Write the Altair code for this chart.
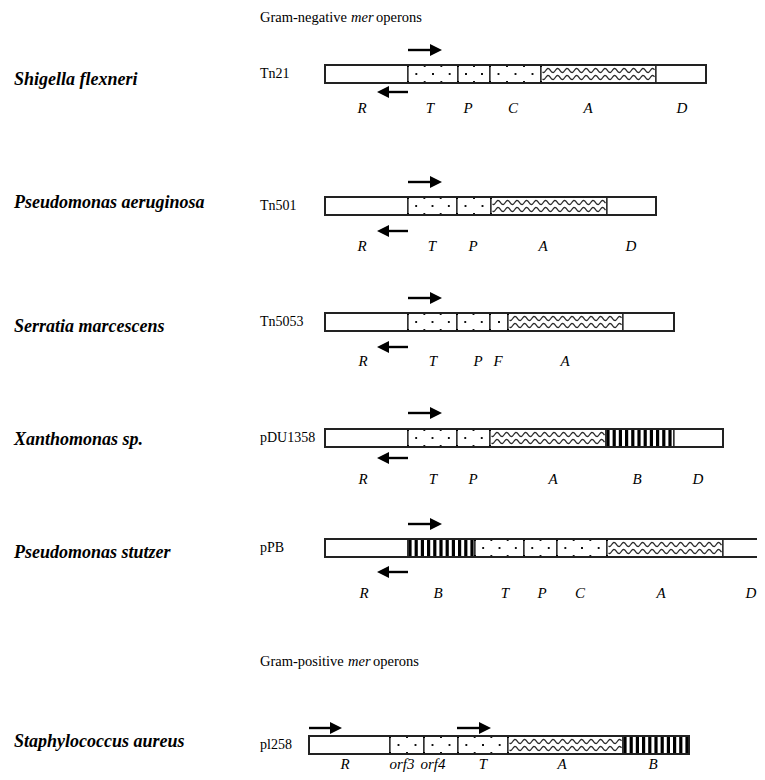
import altair as alt
import pandas as pd
import numpy as np

# ---------------- data (positions in px-like map units; 0 = operon start) -------------
OPERONS = ["Tn21", "Tn501", "Tn5053", "pDU1358", "pPB", "pl258"]
SPECIES = ["Shigella flexneri", "Pseudomonas aeruginosa", "Serratia marcescens",
           "Xanthomonas sp.", "Pseudomonas stutzer", "Staphylococcus aureus"]
SPECIES_Y = [80, 203, 327, 440, 553, 742]
TRACK_Y = [74, 206, 322, 438, 548, 745]
LABEL_Y = [108, 246, 361, 479, 593, 764]

TN21_BOUNDS = [0, 83, 133, 165, 216, 331, 381]
TN21_FILL = ["plain", "dots", "dots", "dots", "wave", "plain"]
TN21_LABELS = ["R", "T", "P", "C", "A", "D"]
TN21_LABEL_X = [37, 105, 143, 188, 263, 357]

TN501_BOUNDS = [0, 83, 132, 166, 282, 331]
TN501_FILL = ["plain", "dots", "dots", "wave", "plain"]
TN501_LABELS = ["R", "T", "P", "A", "D"]
TN501_LABEL_X = [37, 107, 148, 218, 306]

TN5053_BOUNDS = [0, 83, 132, 165, 183, 298, 349]
TN5053_FILL = ["plain", "dots", "dots", "dots", "wave", "plain"]
TN5053_LABELS = ["R", "T", "P", "F", "A"]
TN5053_LABEL_X = [38, 108, 153, 173, 240]

PDU_BOUNDS = [0, 83, 132, 165, 281, 349, 398]
PDU_FILL = ["plain", "dots", "dots", "wave", "stripes", "plain"]
PDU_LABELS = ["R", "T", "P", "A", "B", "D"]
PDU_LABEL_X = [38, 108, 148, 228, 312, 373]

PPB_BOUNDS = [0, 83, 150, 199, 232, 282, 398, 470]
PPB_FILL = ["plain", "stripes", "dots", "dots", "dots", "wave", "plain"]
PPB_LABELS = ["R", "B", "T", "P", "C", "A", "D"]
PPB_LABEL_X = [39, 113, 180, 217, 255, 336, 426]

PL258_BOUNDS = [-16, 65, 99, 133, 183, 298, 364]
PL258_FILL = ["plain", "dots", "dots", "dots", "wave", "stripes"]
PL258_LABELS = ["R", "orf3", "orf4", "T", "A", "B"]
PL258_LABEL_X = [20, 77, 108, 158, 237, 328]

# arrows: start, end, y
ARROW_X1 = [83, 83, 83, 83, 83, 83, 83, 83, 83, 83, -16, 132]
ARROW_X2 = [117, 52, 117, 52, 117, 52, 117, 52, 117, 52, 17, 166]
ARROW_Y = [50, 92, 182, 231, 298, 347, 413, 458, 524, 572, 728, 728]

TITLES = ["Gram-negative", "mer", "operons", "Gram-positive", "mer", "operons"]
TITLE_X = [-65, 26, 51, -65, 23, 48]
TITLE_Y = [18, 18, 18, 662, 662, 662]
TITLE_STYLE = ["normal", "italic", "normal", "normal", "italic", "normal"]

OPERON_NAME_X = -65

ALL_BOUNDS = [TN21_BOUNDS, TN501_BOUNDS, TN5053_BOUNDS, PDU_BOUNDS, PPB_BOUNDS, PL258_BOUNDS]
ALL_FILL = [TN21_FILL, TN501_FILL, TN5053_FILL, PDU_FILL, PPB_FILL, PL258_FILL]
ALL_LABELS = [TN21_LABELS, TN501_LABELS, TN5053_LABELS, PDU_LABELS, PPB_LABELS, PL258_LABELS]
ALL_LABEL_X = [TN21_LABEL_X, TN501_LABEL_X, TN5053_LABEL_X, PDU_LABEL_X, PPB_LABEL_X, PL258_LABEL_X]

HALF = 9  # half bar thickness (map units)

# ---------------- build tables -------------
seg_rows, outline_rows, dot_rows, wave_rows, stripe_rows, lab_rows = [], [], [], [], [], []
for k, (bounds, fills) in enumerate(zip(ALL_BOUNDS, ALL_FILL)):
    c = TRACK_Y[k]
    outline_rows.append(dict(x=bounds[0], x2=bounds[-1], y=c - HALF, y2=c + HALF))
    for i, f in enumerate(fills):
        s, e = bounds[i], bounds[i + 1]
        seg_rows.append(dict(x=s, x2=e, y=c - HALF, y2=c + HALF))
        w = e - s
        if f == "dots":
            n = max(1, int(round(w / 16.0)))
            for j in range(n):
                dot_rows.append(dict(x=s + (j + 0.5) * w / n, y=c))
            for j in range(n + 1):
                dot_rows.append(dict(x=s + j * w / n, y=c - HALF + 1))
                dot_rows.append(dict(x=s + j * w / n, y=c + HALF - 1))
        elif f == "wave":
            xs = np.arange(s + 1.5, e - 1.0, 0.5)
            for off in (-3.5, 3.5):
                wid = f"{k}-{i}-{off}"
                for xv in xs:
                    wave_rows.append(dict(x=float(xv), y=c + off + 2.0 * np.sin((xv - s) * 2 * np.pi / 9.5), id=wid))
        elif f == "stripes":
            xv = s + 2.0
            while xv < e - 1.0:
                stripe_rows.append(dict(x=xv, y=c - HALF, y2=c + HALF))
                xv += 6.2
    for lab, lx in zip(ALL_LABELS[k], ALL_LABEL_X[k]):
        lab_rows.append(dict(x=lx, y=LABEL_Y[k], t=lab))

seg_df = pd.DataFrame(seg_rows)
outline_df = pd.DataFrame(outline_rows)
dot_df = pd.DataFrame(dot_rows)
wave_df = pd.DataFrame(wave_rows)
stripe_df = pd.DataFrame(stripe_rows)
lab_df = pd.DataFrame(lab_rows)

shaft_rows, head_r, head_l = [], [], []
for x1, x2, y in zip(ARROW_X1, ARROW_X2, ARROW_Y):
    d = 1 if x2 > x1 else -1
    shaft_rows.append(dict(x=x1, x2=x2 - d * 8, y=y))
    (head_r if d > 0 else head_l).append(dict(x=x2 - d * 6, y=y))
shaft_df = pd.DataFrame(shaft_rows)
headr_df = pd.DataFrame(head_r)
headl_df = pd.DataFrame(head_l)

name_df = pd.DataFrame(dict(x=[OPERON_NAME_X] * len(OPERONS), y=TRACK_Y, t=OPERONS))
species_df = pd.DataFrame(dict(x=[-311] * len(SPECIES), y=SPECIES_Y, t=SPECIES))
title_df = pd.DataFrame(dict(x=TITLE_X, y=TITLE_Y, t=TITLES, s=TITLE_STYLE))

# ---------------- scales -------------
XS = alt.Scale(domain=[-317, 432], nice=False, zero=False)
YS = alt.Scale(domain=[8, 772], nice=False, zero=False, reverse=True)
FONT = "Liberation Serif"


def X(f="x"):
    return alt.X(f + ":Q", scale=XS, axis=None)


def Y(f="y"):
    return alt.Y(f + ":Q", scale=YS, axis=None)


segs = alt.Chart(seg_df).mark_rect(fill="white", stroke="black", strokeWidth=1.1, clip=True).encode(
    x=X(), x2="x2:Q", y=Y(), y2="y2:Q")
dots = alt.Chart(dot_df).mark_square(size=3.5, color="black", opacity=1).encode(x=X(), y=Y())
waves = alt.Chart(wave_df).mark_line(color="#2a2a2a", strokeWidth=1.25).encode(
    x=X(), y=Y(), detail="id:N")
stripes = alt.Chart(stripe_df).mark_rule(color="black", strokeWidth=3.2).encode(
    x=X(), y=Y(), y2="y2:Q")
outline = alt.Chart(outline_df).mark_rect(fill=None, stroke="#222222", strokeWidth=2, clip=True).encode(
    x=X(), x2="x2:Q", y=Y(), y2="y2:Q")
shafts = alt.Chart(shaft_df).mark_rule(color="black", strokeWidth=2.4).encode(
    x=X(), x2="x2:Q", y=Y())
heads_r = alt.Chart(headr_df).mark_point(shape="M-1,-1L1,0L-1,1Z", filled=True, size=144,
                                         color="black", opacity=1, strokeWidth=0).encode(x=X(), y=Y())
heads_l = alt.Chart(headl_df).mark_point(shape="M1,-1L-1,0L1,1Z", filled=True, size=144,
                                         color="black", opacity=1, strokeWidth=0).encode(x=X(), y=Y())
gene_labels = alt.Chart(lab_df).mark_text(font=FONT, fontStyle="italic", fontSize=15, color="black",
                                          align="center", baseline="middle").encode(x=X(), y=Y(), text="t:N")
names = alt.Chart(name_df).mark_text(font=FONT, fontSize=14, color="black", align="left",
                                     baseline="middle").encode(x=X(), y=Y(), text="t:N")
species = alt.Chart(species_df).mark_text(font=FONT, fontSize=18, fontStyle="italic", fontWeight="bold",
                                          color="black", align="left", baseline="middle").encode(
    x=X(), y=Y(), text="t:N")
titles_n = alt.Chart(title_df).transform_filter("datum.s == 'normal'").mark_text(
    font=FONT, fontSize=14.5, color="black", align="left", baseline="middle").encode(x=X(), y=Y(), text="t:N")
titles_i = alt.Chart(title_df).transform_filter("datum.s == 'italic'").mark_text(
    font=FONT, fontSize=14.5, fontStyle="italic", color="black", align="left", baseline="middle").encode(
    x=X(), y=Y(), text="t:N")

chart = alt.layer(segs, dots, waves, stripes, outline, shafts, heads_r, heads_l,
                  gene_labels, names, species, titles_n, titles_i).properties(
    width=749, height=764, padding=0, autosize=alt.AutoSizeParams(type="none"),
    background="white").configure_view(stroke=None)

chart.save("out.html", embed_options={"renderer": "svg", "actions": False})
